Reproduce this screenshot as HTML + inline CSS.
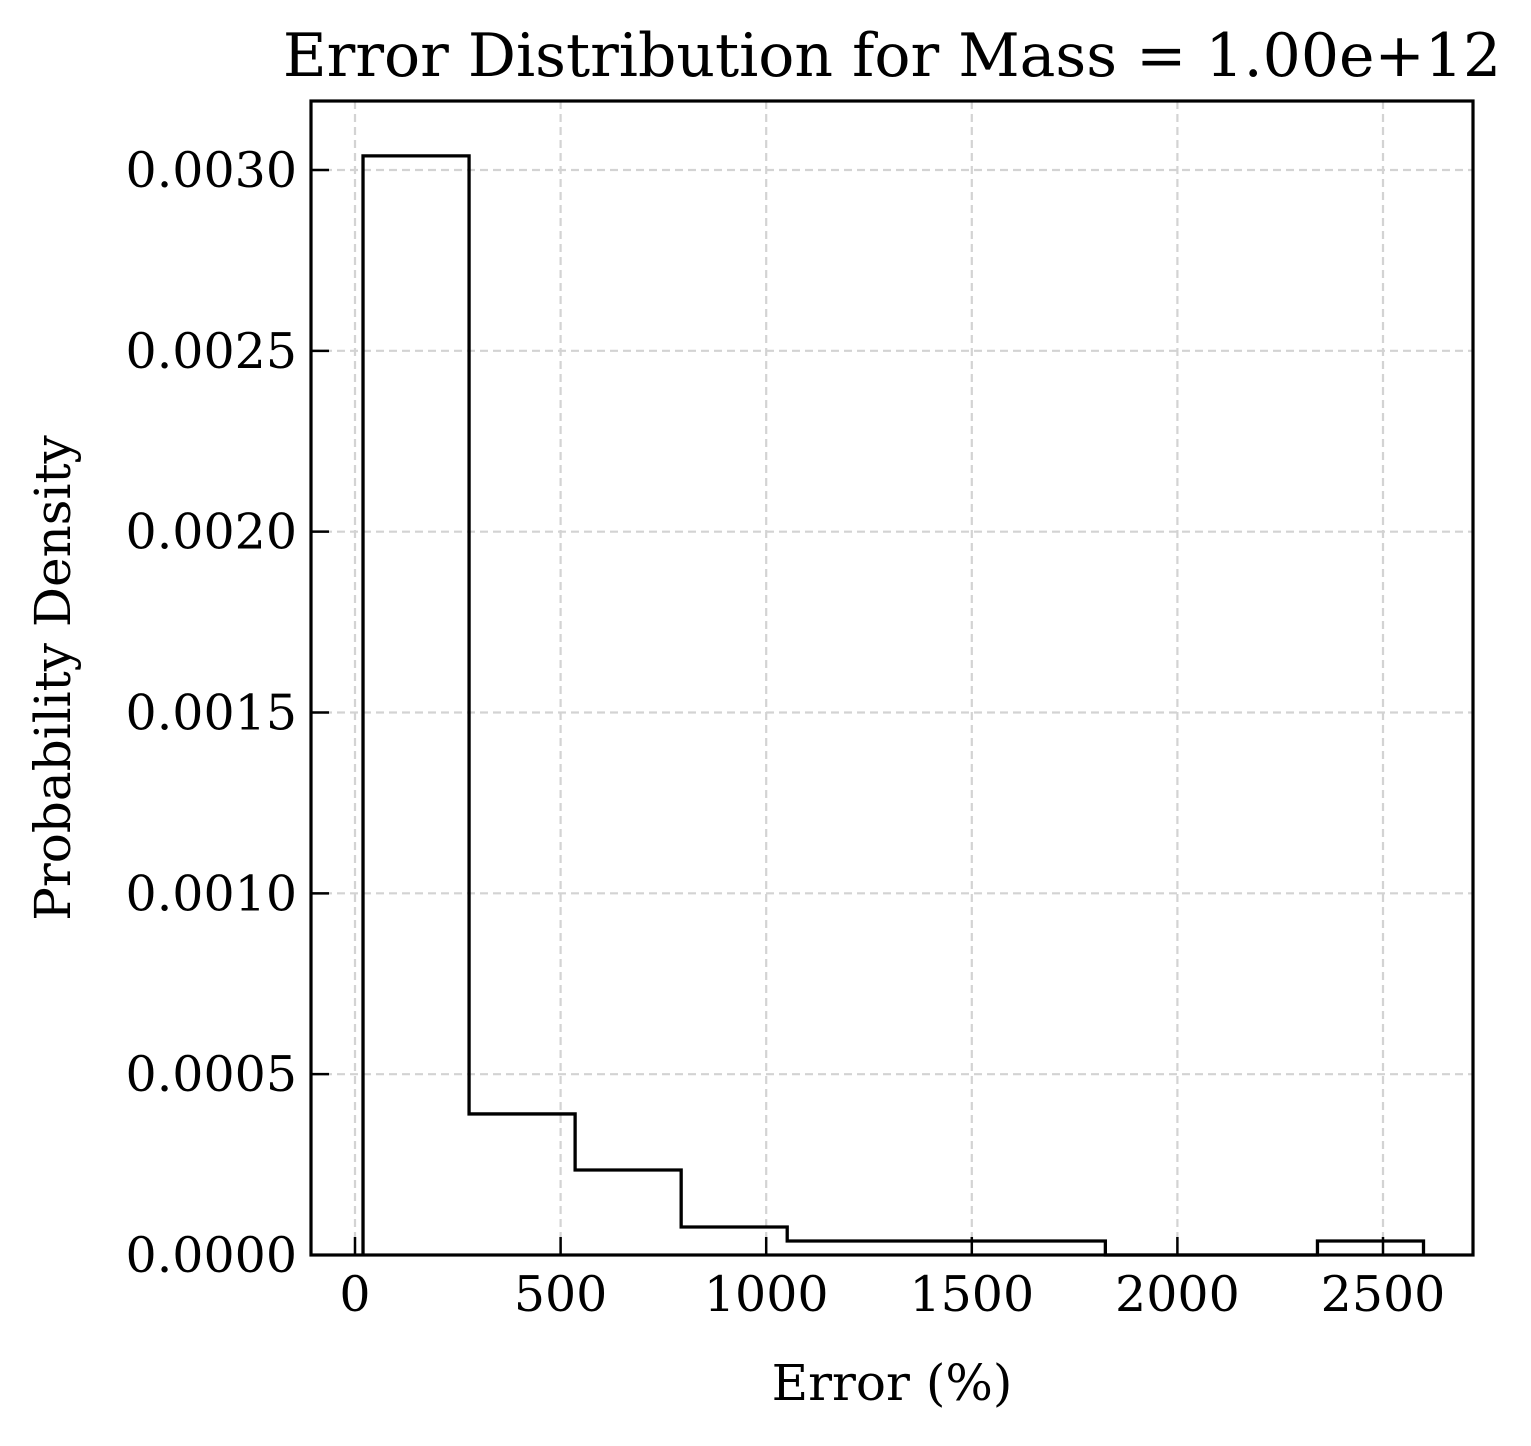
<!DOCTYPE html>
<html><head><meta charset="utf-8"><style>
body{margin:0;background:#fff;}
svg text{font-family:"DejaVu Serif","Liberation Serif",serif;fill:#000;}
</style></head><body>
<svg id="chart" width="1531" height="1441" xmlns="http://www.w3.org/2000/svg">
<g id="grid"></g>
<g id="bars"></g>
<rect x="311" y="101" width="1162" height="1154" fill="none" stroke="#000" stroke-width="3.2"/>
<g id="ticks"></g>
<text x="892" y="76" font-size="60" text-anchor="middle">Error Distribution for Mass = 1.00e+12</text>
<text x="892" y="1400" font-size="50" text-anchor="middle">Error (%)</text>
<text transform="translate(70,678) rotate(-90)" font-size="50" text-anchor="middle">Probability Density</text>
</svg>
<script>
const binEdges=[19.5,277.4,535.3,793.2,1051.1,1309,1566.9,1824.8,2082.7,2340.6,2598.5];
const densities=[0.003039,0.00039,0.000235,0.0000774,0.0000387,0.0000387,0.0000387,0,0,0.0000387];
const xTicks=[0,500,1000,1500,2000,2500];
const yTicks=[0,0.0005,0.001,0.0015,0.002,0.0025,0.003];
const yTickLabels=["0.0000","0.0005","0.0010","0.0015","0.0020","0.0025","0.0030"];
const X=v=>355+v*0.4112;
const Y=v=>1255-v*361667;
const NS="http://www.w3.org/2000/svg";
function mk(tag,attrs,parent){const e=document.createElementNS(NS,tag);for(const k in attrs)e.setAttribute(k,attrs[k]);parent.appendChild(e);return e;}
const grid=document.getElementById('grid'),ticks=document.getElementById('ticks'),bars=document.getElementById('bars');
xTicks.forEach(t=>{
 const x=X(t);
 const g=mk('line',{x1:x,x2:x,y1:101,y2:1255,stroke:'#d3d3d3','stroke-width':2.2,'stroke-dasharray':'8,5'},grid);
 
 
 const tk=mk('line',{x1:x,x2:x,y1:1255,y2:1237,stroke:'#000','stroke-width':2.5},ticks);
 
 
 const lb=mk('text',{x:x,y:1311,'font-size':49,'text-anchor':'middle'},ticks);
 lb.textContent=t;
 
 
});
yTicks.forEach((t,i)=>{
 const y=Y(t);
 const g=mk('line',{x1:311,x2:1473,y1:y,y2:y,stroke:'#d3d3d3','stroke-width':2.2,'stroke-dasharray':'8,5'},grid);
 
 
 const tk=mk('line',{x1:311,x2:329,y1:y,y2:y,stroke:'#000','stroke-width':2.5},ticks);
 
 
 const lb=mk('text',{x:297,y:y+17,'font-size':49,'text-anchor':'end'},ticks);
 lb.textContent=yTickLabels[i];
 
 
});
let d='M'+X(binEdges[0])+','+Y(0);
densities.forEach((v,i)=>{d+=' L'+X(binEdges[i])+','+Y(v)+' L'+X(binEdges[i+1])+','+Y(v);});
d+=' L'+X(binEdges[binEdges.length-1])+','+Y(0);
const p=mk('path',{d:d,fill:'none',stroke:'#000','stroke-width':3.3},bars);


</script>
</body></html>
